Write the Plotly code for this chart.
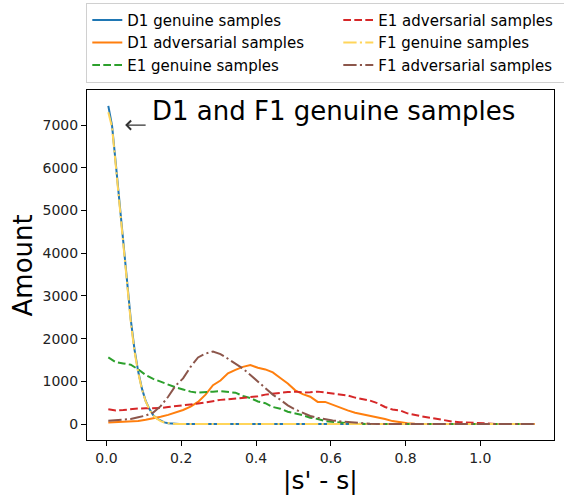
import plotly.graph_objects as go

# Shared x grid (bin centres of |s' - s|)
x_common = [0.005, 0.025, 0.045, 0.065, 0.085, 0.105, 0.125, 0.145, 0.165, 0.185,
            0.205, 0.225, 0.245, 0.265, 0.285, 0.305, 0.325, 0.345, 0.365, 0.385,
            0.405, 0.425, 0.445, 0.465, 0.485, 0.505, 0.525, 0.545, 0.565, 0.585,
            0.605, 0.625, 0.645, 0.665, 0.685, 0.705, 0.725, 0.745, 0.765, 0.785,
            0.805, 0.825, 0.845, 0.865, 0.885, 0.905, 0.925, 0.945, 0.965, 0.985,
            1.005, 1.025, 1.045, 1.065, 1.085, 1.105, 1.125, 1.145]

# finer grid at the start for the genuine D1/F1 curves
x_gen = [0.005, 0.015, 0.025, 0.035, 0.045, 0.055, 0.065, 0.075, 0.085, 0.095,
         0.105, 0.115, 0.125, 0.135, 0.145, 0.155, 0.165, 0.175, 0.185, 0.195,
         0.205, 0.225, 0.245, 0.265, 0.285, 0.305, 0.325, 0.345, 0.365, 0.385,
         0.405, 0.425, 0.445, 0.465, 0.485, 0.505, 0.525, 0.545, 0.565, 0.585,
         0.605, 0.625, 0.645, 0.665, 0.685, 0.705, 0.725, 0.745, 0.765, 0.785,
         0.805, 0.825, 0.845, 0.865, 0.885, 0.905, 0.925, 0.945, 0.965, 0.985,
         1.005, 1.025, 1.045, 1.065, 1.085, 1.105, 1.125, 1.145]

d1_genuine = [7450, 6990, 6100, 5200, 4300, 3400, 2450, 1750, 1230, 830,
              540, 350, 210, 130, 75, 40, 20, 10, 4, 1,
              0, 0, 0, 0, 0, 0, 0, 0, 0, 0,
              0, 0, 0, 0, 0, 0, 0, 0, 0, 0,
              0, 0, 0, 0, 0, 0, 0, 0, 0, 0,
              0, 0, 0, 0, 0, 0, 0, 0, 0, 0,
              0, 0, 0, 0, 0, 0, 0, 0]

f1_genuine = [7300, 6950, 6050, 5150, 4250, 3350, 2400, 1700, 1200, 810,
              530, 340, 205, 125, 70, 38, 18, 9, 3, 1,
              0, 0, 0, 0, 0, 0, 0, 0, 0, 0,
              0, 0, 0, 0, 0, 0, 0, 0, 0, 0,
              0, 0, 0, 0, 0, 0, 0, 0, 0, 0,
              0, 0, 0, 0, 0, 0, 0, 0, 0, 0,
              0, 0, 0, 0, 0, 0, 0, 0]

d1_adversarial = [35, 40, 45, 50, 70, 100, 130, 170, 215, 270,
                  330, 410, 520, 690, 910, 1020, 1190, 1270, 1340, 1380,
                  1320, 1280, 1210, 1080, 950, 790, 700, 640, 520, 520,
                  450, 380, 320, 265, 230, 200, 160, 120, 70, 40,
                  20, 10, 5, 2, 0, 0, 0, 0, 0, 0,
                  0, 0, 0, 0, 0, 0, 0, 0]

e1_genuine = [1560, 1450, 1420, 1390, 1280, 1150, 1060, 990, 930, 860,
              810, 760, 735, 740, 760, 770, 750, 735, 660, 610,
              530, 490, 400, 360, 290, 250, 210, 150, 120, 70,
              60, 35, 20, 10, 5, 2, 0, 0, 0, 0,
              0, 0, 0, 0, 0, 0, 0, 0, 0, 0,
              0, 0, 0, 0, 0, 0, 0, 0]

e1_adversarial = [350, 320, 330, 355, 365, 370, 375, 375, 400, 425,
                  440, 460, 480, 510, 530, 567, 580, 600, 620, 640,
                  650, 690, 710, 740, 750, 760, 740, 745, 760, 740,
                  720, 700, 670, 620, 580, 550, 490, 400, 340, 320,
                  250, 210, 180, 150, 115, 85, 60, 45, 35, 20,
                  10, 5, 3, 2, 0, 0, 0, 0]

f1_adversarial = [80, 90, 100, 120, 160, 200, 270, 420, 640, 900,
                  1070, 1340, 1560, 1650, 1700, 1640, 1530, 1420, 1300, 1150,
                  1000, 840, 690, 570, 440, 340, 260, 190, 150, 110,
                  85, 65, 50, 30, 15, 8, 3, 0, 0, 0,
                  0, 0, 0, 0, 0, 0, 0, 0, 0, 0,
                  0, 0, 0, 0, 0, 0, 0, 0]

x_ticks = [0.0, 0.2, 0.4, 0.6, 0.8, 1.0]
y_ticks = [0, 1000, 2000, 3000, 4000, 5000, 6000, 7000]

DASH = "7.7px,3.3px"
DASHDOT = "13.3px,3.3px,2.1px,3.3px"
FONT = "DejaVu Sans"

series = [
    ("D1 genuine samples", x_gen, d1_genuine, "#1f77b4", "solid", 1),
    ("D1 adversarial samples", x_common, d1_adversarial, "#ff7f0e", "solid", 3),
    ("E1 genuine samples", x_common, e1_genuine, "#2ca02c", DASH, 5),
    ("E1 adversarial samples", x_common, e1_adversarial, "#d62728", DASH, 2),
    ("F1 genuine samples", x_gen, f1_genuine, "#ffd55a", DASHDOT, 4),
    ("F1 adversarial samples", x_common, f1_adversarial, "#8c564b", DASHDOT, 6),
]

fig = go.Figure()
for name, xs, ys, color, dash, rank in series:
    fig.add_trace(go.Scatter(
        x=xs, y=ys, mode="lines", name=name, legendrank=rank,
        line=dict(color=color, width=2, dash=dash),
    ))

fig.update_layout(
    width=564, height=495,
    margin=dict(l=87, r=10, t=90, b=55, autoexpand=False),
    paper_bgcolor="white", plot_bgcolor="white",
    font=dict(family=FONT, color="#000000", size=14),
    showlegend=True,
    legend=dict(
        orientation="h", x=-0.0015, y=1.249, xanchor="left", yanchor="top",
        entrywidth=206, itemwidth=30,
        font=dict(family=FONT, size=15, color="#000000"),
        bordercolor="#d0d0d0", borderwidth=1, bgcolor="rgba(255,255,255,0.8)",
    ),
    xaxis=dict(
        range=[-0.052, 1.197], tickvals=x_ticks,
        ticktext=["0.0", "0.2", "0.4", "0.6", "0.8", "1.0"],
        showgrid=False, zeroline=False, showline=True, linecolor="#000000",
        linewidth=1, mirror=True, ticks="outside", ticklen=5, tickcolor="#000000",
        tickfont=dict(family=FONT, size=14, color="#222222"),
    ),
    yaxis=dict(
        range=[-372.5, 7822], tickvals=y_ticks,
        showgrid=False, zeroline=False, showline=True, linecolor="#000000",
        linewidth=1, mirror=True, ticks="outside", ticklen=5, tickcolor="#000000",
        tickfont=dict(family=FONT, size=14, color="#222222"),
    ),
    annotations=[
        dict(text="D1 and F1 genuine samples", x=0.117, y=7339, xref="x", yref="y",
             xanchor="left", yanchor="middle", showarrow=False,
             font=dict(family=FONT, size=26, color="#000000")),
        dict(text="", x=0.05, y=7000, xref="x", yref="y", showarrow=True,
             ax=22, ay=0, axref="pixel", ayref="pixel", arrowhead=4,
             arrowsize=1.6, arrowwidth=1.1, arrowcolor="#333333", standoff=0),
        dict(text="|s' - s|", x=0.5, y=-0.115, xref="paper", yref="paper",
             xanchor="center", yanchor="middle", showarrow=False,
             font=dict(family=FONT, size=25, color="#000000")),
        dict(text="Amount", x=-0.136, y=0.5, xref="paper", yref="paper",
             xanchor="center", yanchor="middle", showarrow=False, textangle=-90,
             font=dict(family=FONT, size=26, color="#000000")),
    ],
)

fig.write_html("out.html", config={"displayModeBar": False},
               post_script="document.body.style.margin='0px';")
